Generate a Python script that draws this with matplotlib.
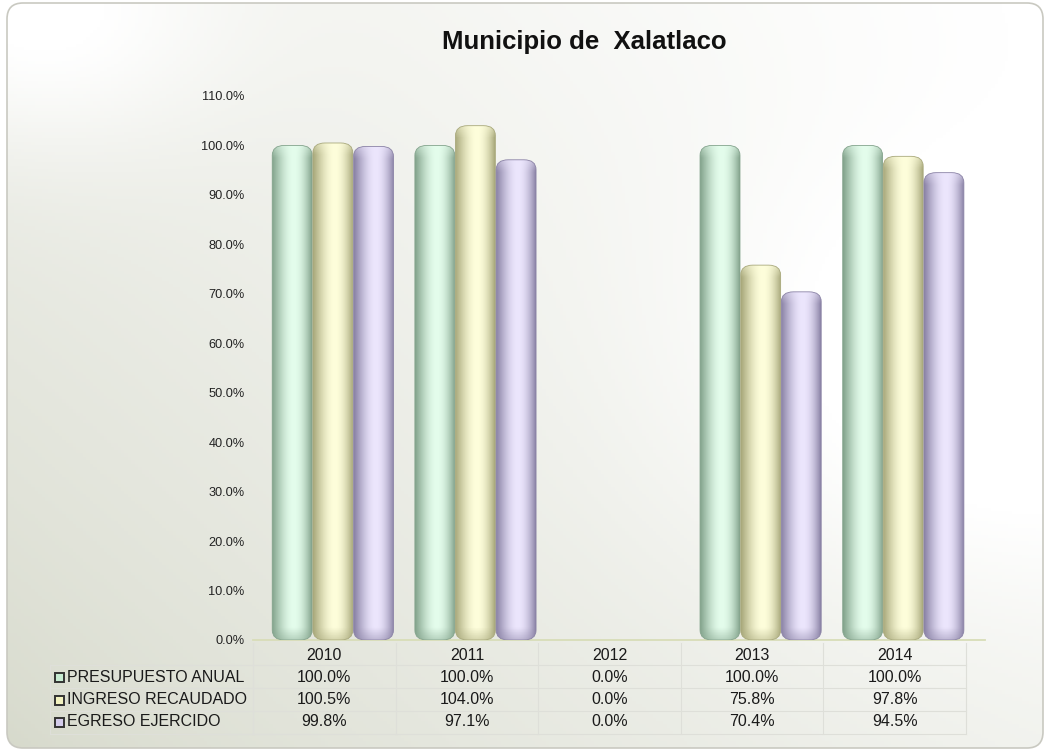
import numpy as np
import matplotlib
matplotlib.use("Agg")
import matplotlib.pyplot as plt
from matplotlib import transforms
from matplotlib.patches import FancyBboxPatch, Rectangle
from matplotlib.colors import to_rgb

plt.rcParams["font.family"] = ["Liberation Sans", "DejaVu Sans"]

# data
years = ["2010", "2011", "2012", "2013", "2014"]
series_names = ["PRESUPUESTO ANUAL", "INGRESO RECAUDADO", "EGRESO EJERCIDO"]
presupuesto = [100.0, 100.0, 0.0, 100.0, 100.0]
ingreso = [100.5, 104.0, 0.0, 75.8, 97.8]
egreso = [99.8, 97.1, 0.0, 70.4, 94.5]
yticks = list(range(0, 111, 10))

# (dark edge, light highlight, key colour)
palettes = [
    ("#84a48d", "#e4fdec", "#c8ecd3"),
    ("#a9a97c", "#fefedb", "#f3f3c1"),
    ("#8b83a6", "#ece6fd", "#d4cceb"),
]

W, H = 1050, 752
fig = plt.figure(figsize=(W / 100, H / 100), dpi=100)


def fx(px):
    return px / W


def fy(py):
    return 1 - py / H


# background with gradient inside a rounded frame
bg = fig.add_axes([0, 0, 1, 1], zorder=-10)
bg.set_axis_off()
gx, gy = np.meshgrid(np.linspace(0, 1, 300), np.linspace(0, 1, 220))
t = 0.55 * gx + 0.45 * (1 - gy)
t += 0.6 * np.exp(-((gx - 0.02) ** 2 + (gy - 0.02) ** 2) / 0.03)
t += 0.5 * np.exp(-((gx - 0.95) ** 2 + (gy - 0.5) ** 2) / 0.08)
t = np.clip(t, 0, 1) ** 0.7
base = np.array(to_rgb("#d6d9cb"))
img = base + (1 - base) * t[..., None]
bg.set_xlim(0, W)
bg.set_ylim(H, 0)
frame = FancyBboxPatch((7, 3), W - 14, H - 7, boxstyle="round,pad=0,rounding_size=16",
                       facecolor="none", edgecolor="#c9c9c1", lw=1.2)
bg.add_patch(frame)
im = bg.imshow(img, extent=(7, W - 7, H - 4, 3), aspect="auto")
im.set_clip_path(frame)

# plot area
x0, x1 = 253, 966
y0, y1 = 640, 96
ax = fig.add_axes([fx(x0), fy(y0), fx(x1) - fx(x0), fy(y1) - fy(y0)])
ax.patch.set_alpha(0)
for s in ax.spines.values():
    s.set_visible(False)

xs = np.arange(len(years))
bw = 0.28
step = 0.285
shift = 0.06
px_per_x = (x1 - x0) / len(years)
px_per_y = (y0 - y1) / 110.0
rx = 12 / px_per_x
ry = 10 / px_per_y


def shade(h, dark, light):
    dark = np.array(to_rgb(dark))
    light = np.array(to_rgb(light))
    u = np.linspace(0, 1, 60)
    f = np.sin(np.pi * u ** 1.15) ** 0.9
    hp = h * px_per_y
    rows = np.linspace(0, hp, 300)  # distance from top in px
    cap = np.clip(1 - rows / 12, 0, 1) * 0.45
    bot = np.clip(1 - (hp - rows) / 12, 0, 1) * 0.45
    ff = f[None, :] * (1 - bot[:, None]) + cap[:, None] * (1 - f[None, :])
    ff = np.clip(ff, 0, 1)
    return dark + (light - dark) * ff[..., None]


for k, vals in enumerate([presupuesto, ingreso, egreso]):
    dark, light, key = palettes[k]
    bars = ax.bar(xs + shift + (k - 1) * step, vals, bw, color=key)
    for rect in bars:
        rect.set_visible(False)
        h = rect.get_height()
        if h <= 0:
            continue
        bx, bwid = rect.get_x(), rect.get_width()
        patch = FancyBboxPatch((bx, 0), bwid, h,
                               boxstyle=f"round,pad=0,rounding_size={rx}",
                               mutation_aspect=ry / rx,
                               facecolor="none", edgecolor=dark, lw=0.6, zorder=3)
        ax.add_patch(patch)
        gim = ax.imshow(shade(h, dark, light), extent=(bx, bx + bwid, 0, h),
                        aspect="auto", zorder=2, origin="upper")
        gim.set_clip_path(patch)

ax.set_xlim(-0.5, len(years) - 0.5)
ax.set_ylim(0, 110)
ax.set_yticks(yticks)
ax.yaxis.set_major_formatter(lambda v, p: f"{v:.1f}%")
ax.tick_params(axis="y", length=0, pad=6, labelsize=9.2, labelcolor="#222222")
ax.set_xticks([])

# baseline
ax.plot([0, (985 - x0) / (x1 - x0)], [0, 0], transform=ax.transAxes,
        color="#d8ddb8", lw=1.3, clip_on=False, zorder=1)

# data table
tr = transforms.blended_transform_factory(ax.transData, fig.transFigure)
grid_c = "#dedfd9"
row_lines = [665, 688, 711, 734]
row_centers = [677, 700, 722]
for py in row_lines:
    fig.add_artist(plt.Line2D([fx(50), fx(x1)], [fy(py), fy(py)], color=grid_c, lw=0.8))
for i in range(len(years) + 1):
    ax.plot([i - 0.5, i - 0.5], [fy(643), fy(734)], transform=tr, color=grid_c,
            lw=0.8, clip_on=False)
fig.add_artist(plt.Line2D([fx(50), fx(50)], [fy(665), fy(734)], color=grid_c, lw=0.8))

fs = 11.5
for i, yr in enumerate(years):
    ax.text(i, fy(655), yr, transform=tr, ha="center", va="center", fontsize=fs,
            color="#1a1a1a")
for k, vals in enumerate([presupuesto, ingreso, egreso]):
    for i, v in enumerate(vals):
        ax.text(i, fy(row_centers[k]), f"{v:.1f}%", transform=tr, ha="center",
                va="center", fontsize=fs, color="#1a1a1a")
    fig.add_artist(Rectangle((fx(55), fy(row_centers[k] + 4.5)), fx(9), 9 / H,
                             facecolor=palettes[k][2], edgecolor="#333333", lw=1.4))
    fig.text(fx(67), fy(row_centers[k]), series_names[k], ha="left", va="center",
             fontsize=fs, color="#1a1a1a")

fig.text(fx(584), fy(42), "Municipio de  Xalatlaco", ha="center", va="center",
         fontsize=18.5, fontweight="bold", color="#111111")

fig.savefig("out.png", dpi=100)
